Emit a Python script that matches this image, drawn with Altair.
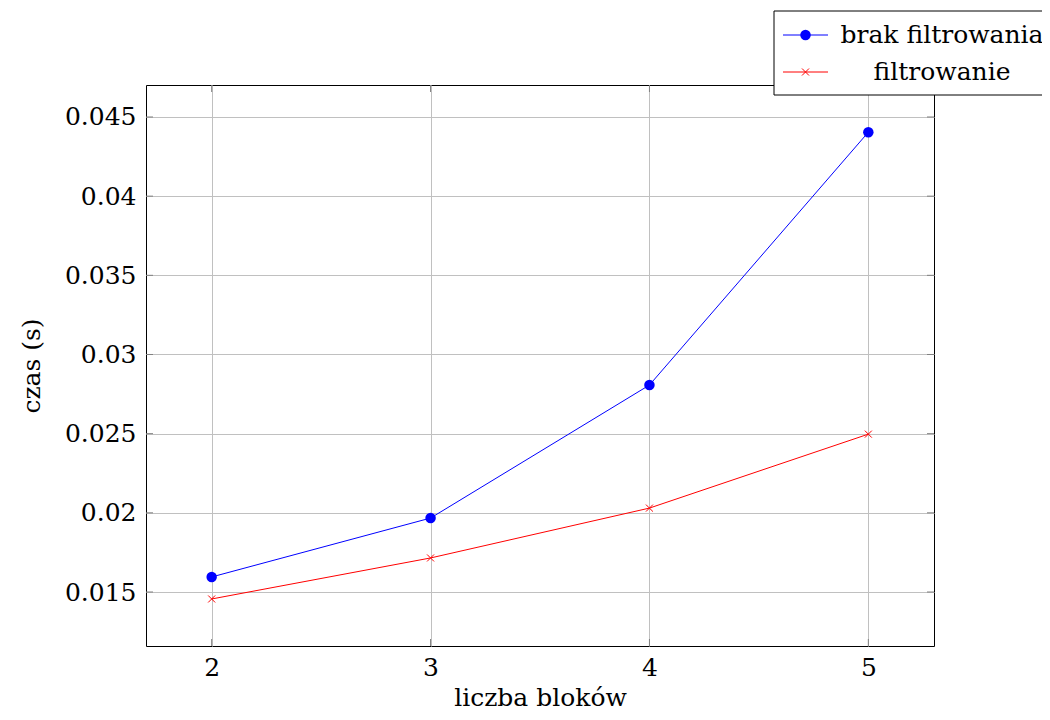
import altair as alt
import pandas as pd

blocks = [2, 3, 4, 5]
brak = [0.01595, 0.01967, 0.02807, 0.04404]
filtr = [0.01456, 0.01715, 0.0203, 0.02497]
series_names = ["brak filtrowania", "filtrowanie"]
x_ticks = [2, 3, 4, 5]
y_ticks = [0.015, 0.02, 0.025, 0.03, 0.035, 0.04, 0.045]

df = pd.DataFrame({
    "bloki": blocks + blocks,
    "czas": brak + filtr,
    "seria": [series_names[0]] * len(blocks) + [series_names[1]] * len(blocks),
})
xt = pd.DataFrame({"bloki": x_ticks})
yt = pd.DataFrame({"czas": y_ticks})
leg_df = pd.DataFrame({"seria": series_names})

FONT = "DejaVu Serif"
FS = 25
colors = ["#0000ff", "#ff0000"]
W, H = 788, 561
GRID = "#c0c0c0"

x_scale = alt.Scale(domain=[1.7, 5.3], nice=False, zero=False)
y_scale = alt.Scale(domain=[0.01159, 0.04702], nice=False, zero=False)
col_scale = alt.Scale(domain=series_names, range=colors)

common_axis = dict(
    ticks=False, domain=False, labelFont=FONT, labelFontSize=FS, labelColor="black",
    titleFont=FONT, titleFontSize=FS, titleColor="black", titleFontWeight="normal",
    gridColor=GRID, gridWidth=1, gridOpacity=1,
)
x_axis = alt.Axis(values=x_ticks, format="d", title="liczba bloków",
                  labelPadding=9, titlePadding=5, **common_axis)
y_axis = alt.Axis(values=y_ticks, format=".3~f", title="czas (s)",
                  labelPadding=10, titlePadding=20, **common_axis)

x_enc = alt.X("bloki:Q", scale=x_scale, axis=x_axis)
y_enc = alt.Y("czas:Q", scale=y_scale, axis=y_axis)

base = alt.Chart(df)

lines = base.mark_line(strokeWidth=1).encode(
    x=x_enc, y=y_enc,
    color=alt.Color("seria:N", scale=col_scale, legend=None),
)

circles = base.transform_filter(alt.datum.seria == series_names[0]).mark_point(
    shape="circle", filled=True, size=110, opacity=1, color=colors[0]
).encode(x=x_enc, y=y_enc)

cross_path = "M-1,-1L1,1M-1,1L1,-1"
crosses = base.transform_filter(alt.datum.seria == series_names[1]).mark_point(
    shape=cross_path, filled=False, size=49, opacity=1, color=colors[1], strokeWidth=1
).encode(x=x_enc, y=y_enc)

# inner tick marks
tick_col = "#808080"
ytick_l = alt.Chart(yt).mark_rule(color=tick_col, strokeWidth=1).encode(
    y=y_enc, x=alt.value(0), x2=alt.value(7))
ytick_r = alt.Chart(yt).mark_rule(color=tick_col, strokeWidth=1).encode(
    y=y_enc, x=alt.value(W - 7), x2=alt.value(W))
xtick_b = alt.Chart(xt).mark_rule(color=tick_col, strokeWidth=1).encode(
    x=x_enc, y=alt.value(H - 7), y2=alt.value(H))
xtick_t = alt.Chart(xt).mark_rule(color=tick_col, strokeWidth=1).encode(
    x=x_enc, y=alt.value(0), y2=alt.value(7))

# legend (drawn as a small overlay box above the top-right corner)
LX0, LX1, LY0, LY1 = 628, 912, -74, 10
ROWS = [-50, -13]
SYM_X0, SYM_X1, SYM_C, LAB_C = 637, 682, 659.5, 796

leg_base = alt.Chart(leg_df)
leg_box = leg_base.transform_filter(alt.datum.seria == series_names[0]).mark_rect(
    fill="white", stroke="black", strokeWidth=1
).encode(x=alt.value(LX0), x2=alt.value(LX1), y=alt.value(LY0), y2=alt.value(LY1))

leg_layers = []
for i, name in enumerate(series_names):
    sel = leg_base.transform_filter(alt.datum.seria == name)
    leg_layers.append(sel.mark_rule(color=colors[i], strokeWidth=1).encode(
        x=alt.value(SYM_X0), x2=alt.value(SYM_X1), y=alt.value(ROWS[i])))
    if i == 0:
        leg_layers.append(sel.mark_point(shape="circle", filled=True, size=110, opacity=1,
                                         color=colors[i]).encode(
            x=alt.value(SYM_C), y=alt.value(ROWS[i])))
    else:
        leg_layers.append(sel.mark_point(shape=cross_path, filled=False, size=49, opacity=1,
                                         color=colors[i], strokeWidth=1).encode(
            x=alt.value(SYM_C), y=alt.value(ROWS[i])))
    leg_layers.append(sel.mark_text(font=FONT, fontSize=FS, color="black", align="center",
                                    baseline="middle").encode(
        x=alt.value(LAB_C), y=alt.value(ROWS[i]), text="seria:N"))

chart = alt.layer(
    ytick_l, ytick_r, xtick_b, xtick_t, lines, circles, crosses, leg_box, *leg_layers
).properties(
    width=W, height=H,
    autosize=alt.AutoSizeParams(type="none"),
    padding={"left": 138, "top": 77, "right": 108, "bottom": 66},
).configure_view(
    stroke="black", strokeWidth=1
)

chart.save("out.html", embed_options={"renderer": "svg", "actions": False})
